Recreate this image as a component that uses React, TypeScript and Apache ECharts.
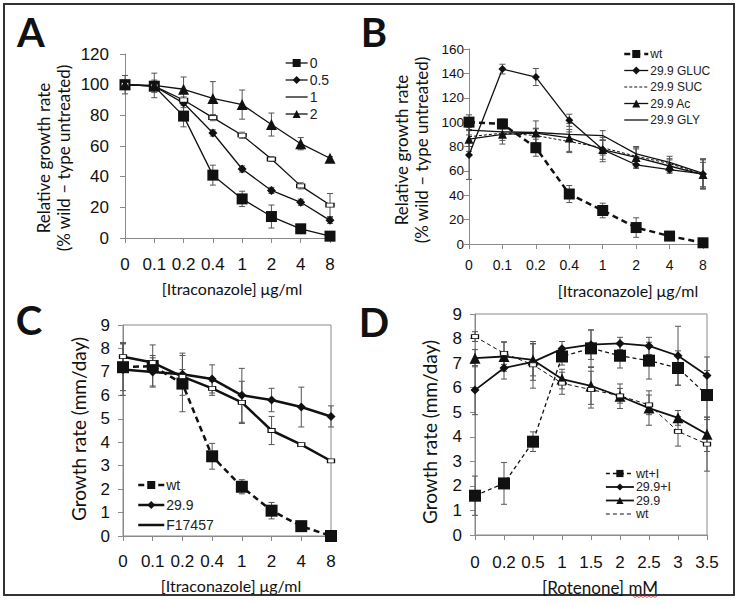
import React, { useEffect, useRef } from "react";
import * as echarts from "echarts";

const itraCats = ["0", "0.1", "0.2", "0.4", "1", "2", "4", "8"];
const rotCats = ["0", "0.2", "0.5", "1", "1.5", "2", "2.5", "3", "3.5"];

// Panel A
const a0 = [100, 99, 79.5, 41, 25.5, 14, 6, 1.2];
const a0Err = [6, 4, 7, 6.5, 5, 7.5, 1.2, 1];
const a05 = [100, 99, 88, 68.5, 45, 31, 23.3, 11.5];
const a05Err = [2, 2, 3, 2, 2, 2, 2, 2];
const a1 = [100, 99, 90, 78.5, 67, 51.5, 34, 21.5];
const a1Err = [2, 2, 2, 2, 2, 1.5, 2, 7.5];
const a2 = [100, 99.5, 97, 91, 87, 74, 61.5, 52];
const a2Err = [2, 8, 8, 11, 9.5, 7.5, 4, 1];

// Panel B
const bWt = [100, 98.5, 79, 41, 27.5, 13.5, 6.5, 1];
const bWtErr = [6, 4, 7, 7, 6, 8, 1, 1];
const bGluc = [73, 143.5, 137, 101.5, 77.5, 65, 61, 57.5];
const bGlucErr = [20, 4, 7, 5, 8, 3, 3, 12];
const bSuc = [88, 91, 89, 84, 79, 72, 66, 57];
const bSucErr = [8, 6, 6, 8, 6, 6, 4, 10];
const bAc = [86, 90, 91, 87, 77.5, 71, 64, 57];
const bAcErr = [10, 8, 10, 12, 10, 8, 5, 12];
const bGly = [93.5, 92, 91.5, 90, 89, 74, 67, 58];
const bGlyErr = [4, 3, 3, 4, 4, 6, 5, 12];

// Panel C
const cWt = [7.2, 7.25, 6.5, 3.4, 2.1, 1.08, 0.42, 0];
const cWtErr = [1.0, 0.9, 1.2, 0.55, 0.3, 0.35, 0.1, 0.05];
const c299 = [7.1, 7.0, 6.9, 6.7, 6.0, 5.8, 5.5, 5.1];
const c299Err = [1.1, 0.6, 0.9, 0.6, 1.15, 0.5, 0.85, 0.45];
const cF = [7.65, 7.4, 6.8, 6.3, 5.7, 4.5, 3.9, 3.2];
const cFErr = [0.6, 0.3, 0.3, 0.3, 0.9, 0.6, 0.05, 0.05];

// Panel D
const dWtI = [1.6, 2.1, 3.8, 7.27, 7.6, 7.3, 7.1, 6.8, 5.7];
const dWtIErr = [0.8, 0.85, 0.4, 0.35, 0.75, 0.5, 0.75, 0.7, 1.0];
const d299I = [5.9, 6.8, 7.05, 7.58, 7.75, 7.8, 7.7, 7.3, 6.5];
const d299IErr = [1.0, 0.45, 0.75, 0.3, 0.6, 0.25, 0.35, 1.2, 0.75];
const d299 = [7.2, 7.27, 7.13, 6.35, 6.07, 5.65, 5.17, 4.77, 4.1];
const d299Err = [0.35, 0.6, 0.65, 0.4, 0.75, 0.5, 0.7, 0.3, 0.7];
const dWt = [8.08, 7.4, 6.93, 6.18, 5.92, 5.67, 5.3, 4.22, 3.7];
const dWtErr = [0.2, 0.45, 0.95, 0.45, 0.75, 0.3, 0.4, 0.6, 1.1];

const INK = "#111";
const AXIS = "#8a8a8a";
const TICKFONT = "Liberation Sans, Arial, sans-serif";
const TITLEFONT = "Lato, Carlito, sans-serif";

function line(name: string, data: number[], g: number, o: any) {
  return {
    type: "line",
    name,
    data,
    xAxisIndex: g,
    yAxisIndex: g,
    symbol: o.symbol ?? "none",
    symbolSize: o.size ?? 8,
    showSymbol: o.symbol ? true : false,
    lineStyle: { color: INK, width: o.width ?? 1.3, type: o.dash ?? "solid" },
    itemStyle: o.itemStyle ?? { color: INK },
    z: 4,
  };
}

function errBars(vals: number[], errs: number[], g: number) {
  return {
    type: "custom",
    xAxisIndex: g,
    yAxisIndex: g,
    silent: true,
    z: 2,
    encode: { x: 0, y: [1, 2] },
    data: vals.map((v, i) => [i, v - errs[i], v + errs[i]]),
    renderItem: (params: any, api: any) => {
      const x = api.value(0);
      const p1 = api.coord([x, api.value(2)]);
      const p2 = api.coord([x, api.value(1)]);
      const w = 3;
      const st = { stroke: "#555", lineWidth: 1 };
      return {
        type: "group",
        children: [
          { type: "line", shape: { x1: p1[0], y1: p1[1], x2: p2[0], y2: p2[1] }, style: st },
          { type: "line", shape: { x1: p1[0] - w, y1: p1[1], x2: p1[0] + w, y2: p1[1] }, style: st },
          { type: "line", shape: { x1: p2[0] - w, y1: p2[1], x2: p2[0] + w, y2: p2[1] }, style: st },
        ],
      };
    },
  };
}

function xAx(g: number, cats: string[], fontSize: number, margin: number) {
  return {
    type: "category",
    gridIndex: g,
    data: cats,
    boundaryGap: false,
    axisLine: { lineStyle: { color: AXIS, width: 1 } },
    axisTick: { show: true, length: 5, lineStyle: { color: AXIS } },
    axisLabel: { interval: 0, margin, fontSize, color: INK, fontFamily: TICKFONT },
    splitLine: { show: false },
  };
}

function yAx(g: number, max: number, interval: number, fontSize: number, margin: number) {
  return {
    type: "value",
    gridIndex: g,
    min: 0,
    max,
    interval,
    axisLine: { show: true, lineStyle: { color: AXIS, width: 1 } },
    axisTick: { show: true, length: 5, lineStyle: { color: AXIS } },
    axisLabel: { margin, fontSize, color: INK, fontFamily: TICKFONT },
    splitLine: { show: false },
  };
}

function legend(names: string[], left: number, top: number, o: any) {
  return {
    data: names.map((n) =>
      o.hideSym && o.hideSym.includes(n) ? { name: n, itemStyle: { opacity: 0 } } : { name: n }
    ),
    left,
    top,
    orient: "vertical",
    padding: 0,
    itemWidth: o.itemWidth,
    itemHeight: o.itemHeight ?? 10,
    itemGap: o.itemGap,
    selectedMode: false,
    lineStyle: { width: "inherit" },
    formatter: (n: string) => n.split("|")[1],
    textStyle: {
      fontSize: o.fontSize,
      lineHeight: o.lineHeight,
      fontFamily: TICKFONT,
      color: "#222",
      padding: [0, 0, 0, -3],
    },
  };
}

function txt(text: string, x: number, y: number, font: string, rot = 0, lh?: number) {
  return {
    type: "text",
    x,
    y,
    rotation: rot,
    style: {
      text,
      font,
      fill: INK,
      align: "center",
      verticalAlign: "middle",
      lineHeight: lh,
    },
  };
}

export default function App() {
  const ref = useRef<HTMLDivElement>(null);
  useEffect(() => {
    const chart = echarts.init(ref.current!, null, { renderer: "svg" });
    const sq = { symbol: "rect" };
    const option: any = {
      animation: false,
      backgroundColor: "#fff",
      grid: [
        { left: 125, top: 54, width: 205, height: 184 },
        { left: 469, top: 49, width: 234, height: 195 },
        { left: 123, top: 325, width: 208, height: 211, show: true, borderColor: AXIS, borderWidth: 1 },
        { left: 475, top: 314, width: 232, height: 221, show: true, borderColor: AXIS, borderWidth: 1 },
      ],
      xAxis: [
        xAx(0, itraCats, 17, 18),
        xAx(1, itraCats, 14, 14),
        xAx(2, itraCats, 17, 17),
        xAx(3, rotCats, 17, 19),
      ],
      yAxis: [yAx(0, 120, 20, 17, 16), yAx(1, 160, 20, 13.5, 5), yAx(2, 9, 1, 17, 13), yAx(3, 9, 1, 17, 13)],
      legend: [
        legend(["A|0", "A|0.5", "A|1", "A|2"], 285, 56, {
          itemWidth: 22,
          fontSize: 14,
          lineHeight: 14,
          itemGap: 3,
          hideSym: ["A|1"],
        }),
        legend(["B|wt", "B|29.9 GLUC", "B|29.9 SUC", "B|29.9 Ac", "B|29.9 GLY"], 623, 48, {
          itemWidth: 24,
          fontSize: 12,
          lineHeight: 12,
          itemGap: 4.5,
          hideSym: ["B|29.9 SUC", "B|29.9 GLY"],
        }),
        legend(["C|wt", "C|29.9", "C|F17457"], 137, 478, {
          itemWidth: 26,
          fontSize: 14,
          lineHeight: 14,
          itemGap: 6,
          hideSym: ["C|F17457"],
        }),
        legend(["D|wt+I", "D|29.9+I", "D|29.9", "D|wt"], 605, 467, {
          itemWidth: 28,
          itemHeight: 9,
          fontSize: 12.5,
          lineHeight: 13,
          itemGap: 0.5,
          hideSym: ["D|wt"],
        }),
      ],
      series: [
        errBars(a0, a0Err, 0),
        errBars(a05, a05Err, 0),
        errBars(a1, a1Err, 0),
        errBars(a2, a2Err, 0),
        line("A|0", a0, 0, { ...sq, size: 11 }),
        line("A|0.5", a05, 0, { symbol: "diamond", size: 9 }),
        line("A|1", a1, 0, {
          symbol: "rect",
          size: [8, 4],
          itemStyle: { color: "#fff", borderColor: INK, borderWidth: 1 },
        }),
        line("A|2", a2, 0, { symbol: "triangle", size: 11 }),

        errBars(bWt, bWtErr, 1),
        errBars(bGluc, bGlucErr, 1),
        errBars(bSuc, bSucErr, 1),
        errBars(bAc, bAcErr, 1),
        errBars(bGly, bGlyErr, 1),
        line("B|wt", bWt, 1, { ...sq, size: 11, width: 2.5, dash: [6, 4] }),
        line("B|29.9 GLUC", bGluc, 1, { symbol: "diamond", size: 8 }),
        line("B|29.9 SUC", bSuc, 1, { dash: [3, 2], width: 1 }),
        line("B|29.9 Ac", bAc, 1, { symbol: "triangle", size: 9 }),
        line("B|29.9 GLY", bGly, 1, { width: 1.3 }),

        errBars(cWt, cWtErr, 2),
        errBars(c299, c299Err, 2),
        errBars(cF, cFErr, 2),
        line("C|wt", cWt, 2, { ...sq, size: 12, width: 2.5, dash: [6, 4] }),
        line("C|29.9", c299, 2, { symbol: "diamond", size: 9, width: 2.5 }),
        line("C|F17457", cF, 2, {
          symbol: "rect",
          size: [7, 4],
          width: 2.5,
          itemStyle: { color: "#fff", borderColor: INK, borderWidth: 1 },
        }),

        errBars(dWtI, dWtIErr, 3),
        errBars(d299I, d299IErr, 3),
        errBars(d299, d299Err, 3),
        errBars(dWt, dWtErr, 3),
        line("D|wt+I", dWtI, 3, { ...sq, size: 12, width: 1.3, dash: [4, 3] }),
        line("D|29.9+I", d299I, 3, { symbol: "diamond", size: 9, width: 1.8 }),
        line("D|29.9", d299, 3, { symbol: "triangle", size: 11, width: 1.8 }),
        line("D|wt", dWt, 3, {
          symbol: "rect",
          size: [7, 4],
          width: 1,
          dash: [4, 3],
          itemStyle: { color: "#fff", borderColor: INK, borderWidth: 1 },
        }),
      ],
      graphic: [
        {
          type: "rect",
          shape: { x: 4, y: 4, width: 730, height: 591 },
          style: { fill: "none", stroke: "#333", lineWidth: 2 },
          silent: true,
        },
        txt("A", 31, 32, `bold 40px ${TITLEFONT}`),
        txt("B", 374, 32, `bold 40px ${TITLEFONT}`),
        txt("C", 29, 320, `bold 40px ${TITLEFONT}`),
        txt("D", 374, 322, `bold 40px ${TITLEFONT}`),
        txt("Relative growth rate\n(% wild – type untreated)", 53, 158, `17px ${TITLEFONT}`, Math.PI / 2, 20),
        txt("Relative growth rate\n(% wild – type untreated)", 411, 150, `17px ${TITLEFONT}`, Math.PI / 2, 20),
        txt("Growth rate (mm/day)", 78, 429, `19px ${TITLEFONT}`, Math.PI / 2),
        txt("Growth rate (mm/day)", 429, 432, `19px ${TITLEFONT}`, Math.PI / 2),
        txt("[Itraconazole] μg/ml", 232, 288, `16px ${TITLEFONT}`),
        txt("[Itraconazole] μg/ml", 628, 290, `16px ${TITLEFONT}`),
        txt("[Itraconazole] μg/ml", 231, 585, `16px ${TITLEFONT}`),
        txt("[Rotenone] mM", 600, 587, `17px ${TITLEFONT}`),
        {
          type: "polyline",
          shape: {
            points: [
              [633, 596], [635, 597.5], [637, 596], [639, 597.5], [641, 596], [643, 597.5],
              [645, 596], [647, 597.5], [649, 596], [651, 597.5], [653, 596], [655, 597.5], [657, 596],
            ],
          },
          style: { stroke: "#d33", lineWidth: 0.8, fill: "none" },
          silent: true,
        },
      ],
    };
    chart.setOption(option);
    return () => chart.dispose();
  }, []);
  return (
    <div
      ref={ref}
      style={{ position: "fixed", left: 0, top: 0, width: 740, height: 605, background: "#fff" }}
    />
  );
}
